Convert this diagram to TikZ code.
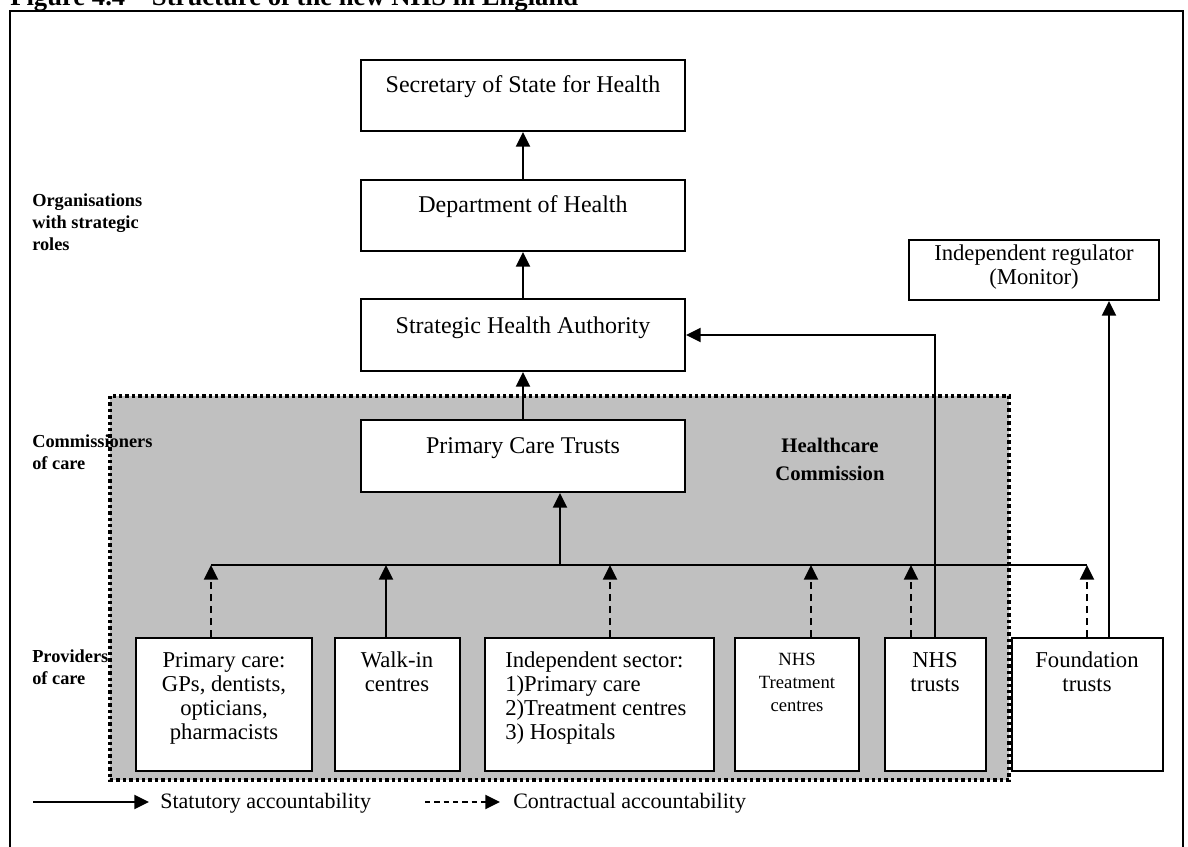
\documentclass[tikz,border=0pt]{standalone}
\usepackage{fontspec}
\setmainfont{Liberation Serif}
\usetikzlibrary{arrows.meta,fit}
\definecolor{hcgray}{HTML}{C0C0C0}
\newcommand{\mlines}[2]{\begin{tabular}[t]{@{}#1@{}}#2\end{tabular}}
\tikzset{
  box/.style={draw=black, fill=white, line width=1.5pt, inner sep=0pt},
  bigtxt/.style={font=\fontsize{18}{18}\selectfont, anchor=base, inner sep=0pt},
  smtxt/.style={font=\fontsize{17}{18}\selectfont, anchor=base, inner sep=0pt},
  tctxt/.style={font=\fontsize{14}{17.5}\selectfont, anchor=base, inner sep=0pt},
  sidelbl/.style={font=\fontsize{13.75}{16.5}\selectfont\bfseries, anchor=base west, inner sep=0pt},
  legtxt/.style={font=\fontsize{16.5}{16.5}\selectfont, anchor=base west, inner sep=0pt},
  plain/.style={line width=1.5pt},
  conn/.style={line width=1.5pt, -{Triangle[width=10.5pt,length=11pt]}},
  contract/.style={conn, dash pattern=on 5pt off 4pt},
  legcontract/.style={conn, dash pattern=on 4pt off 3pt},
  hcregion/.style={fill=hcgray, draw=black, line width=2.6pt, dash pattern=on 2.6pt off 2.2pt},
}
\begin{document}
\begin{tikzpicture}[x=0.75pt,y=-0.75pt]
\useasboundingbox (0,0) rectangle (1188,846);
% title and frame
\node[anchor=base west, inner sep=0pt, font=\fontsize{20}{20}\selectfont\bfseries] (title) at (10,6) {Figure 4.4 – Structure of the new NHS in England};
\draw[line width=1.8pt] (10,860) -- (10,11) -- (1183,11) -- (1183,860);
% Healthcare Commission region
\path[hcregion] (110,396) rectangle (1009,780);
% boxes
\node[box, fit={(361,60) (685,131)}] (sec) {};
\node[box, fit={(361,180) (685,251)}] (doh) {};
\node[box, fit={(361,299) (685,371)}] (sha) {};
\node[box, fit={(361,420) (685,492)}] (pct) {};
\node[box, fit={(909,240) (1159,300)}] (reg) {};
\node[box, fit={(136,638) (312,771)}] (pc) {};
\node[box, fit={(335,638) (460,771)}] (walk) {};
\node[box, fit={(485,638) (714,771)}] (indep) {};
\node[box, fit={(735,638) (859,771)}] (tc) {};
\node[box, fit={(885,638) (986,771)}] (nhst) {};
\node[box, fit={(1012,638) (1163,771)}] (found) {};
% box texts
\node[bigtxt] (secT) at (523,92) {Secretary of State for Health};
\node[bigtxt] (dohT) at (523,212) {Department of Health};
\node[bigtxt] (shaT) at (523,333) {Strategic Health Authority};
\node[bigtxt] (pctT) at (523,453) {Primary Care Trusts};
\node[smtxt] (regT) at (1034,260) {\mlines{c}{Independent regulator\\(Monitor)}};
\node[smtxt] (pcT) at (224,667) {\mlines{c}{Primary care:\\GPs, dentists,\\opticians,\\pharmacists}};
\node[smtxt] (walkT) at (397,667) {\mlines{c}{Walk-in\\centres}};
\node[smtxt, anchor=base west] (indepT) at (505,667) {\mlines{l}{Independent sector:\\1)Primary care\\2)Treatment centres\\3) Hospitals}};
\node[tctxt] (tcT) at (797,665) {\mlines{c}{NHS\\Treatment\\centres}};
\node[smtxt] (nhstT) at (935,667) {\mlines{c}{NHS\\trusts}};
\node[smtxt] (foundT) at (1087,667) {\mlines{c}{Foundation\\trusts}};
\node[font=\fontsize{15.5}{21}\selectfont\bfseries, anchor=base, inner sep=0pt] (hcT) at (830,452) {\mlines{c}{Healthcare\\Commission}};
% side labels
\node[sidelbl] (orgL) at (32,206) {\mlines{l}{Organisations\\with strategic\\roles}};
\node[sidelbl] (comL) at (32,447) {\mlines{l}{Commissioners\\of care}};
\node[sidelbl] (proL) at (32,662) {\mlines{l}{Providers\\of care}};
% upper chain
\draw[conn] (doh.north) -- (sec.south);
\draw[conn] (sha.north) -- (doh.south);
\draw[conn] (pct.north) -- (sha.south);
% bus
\coordinate (busL) at (211,565);
\coordinate (busR) at (1087,565);
\coordinate (busP) at (560,565);
\coordinate (bW) at (386,565);
\coordinate (bI) at (610,565);
\coordinate (bT) at (811,565);
\coordinate (bN) at (911,565);
\coordinate (nU) at (935,565);
\coordinate (fU) at (1109,565);
\draw[plain] (busL) -- (busR);
\draw[conn] (busP) -- (busP |- pct.south);
\draw[contract] (busL |- pc.north) -- (busL);
\draw[conn] (bW |- walk.north) -- (bW);
\draw[contract] (bI |- indep.north) -- (bI);
\draw[contract] (bT |- tc.north) -- (bT);
\draw[contract] (bN |- nhst.north) -- (bN);
\draw[contract] (busR |- found.north) -- (busR);
\draw[conn] (nU |- nhst.north) |- (sha.east);
\draw[conn] (fU |- found.north) -- (fU |- reg.south);
% legend
\coordinate (s1) at (33,802);
\coordinate (s2) at (149,802);
\coordinate (c1) at (425,802);
\coordinate (c2) at (500,802);
\draw[conn] (s1) -- (s2);
\draw[legcontract] (c1) -- (c2);
\node[legtxt] (sL) at (160,808) {Statutory accountability};
\node[legtxt] (cL) at (513,808) {Contractual accountability};
\end{tikzpicture}
\end{document}
